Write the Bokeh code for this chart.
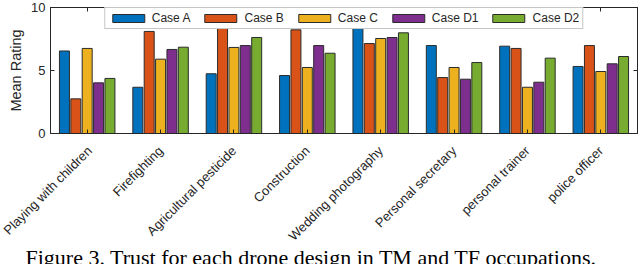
import math
from bokeh.plotting import figure
from bokeh.models import (FactorRange, Range1d, LinearAxis, CategoricalAxis, Legend,
                          LegendItem, FixedTicker, ColumnDataSource, Title)
from bokeh.transform import dodge
from bokeh.embed import file_html
from bokeh.resources import INLINE

categories = ["Playing with children", "Firefighting", "Agricultural pesticide",
              "Construction", "Wedding photography", "Personal secretary",
              "personal trainer", "police officer"]
case_a = [6.55, 3.67, 4.74, 4.60, 8.41, 6.98, 6.93, 5.32]
case_b = [2.75, 8.10, 8.44, 8.23, 7.14, 4.44, 6.75, 6.98]
case_c = [6.75, 5.90, 6.83, 5.24, 7.54, 5.24, 3.67, 4.92]
case_d1 = [4.02, 6.67, 6.98, 6.98, 7.62, 4.31, 4.07, 5.53]
case_d2 = [4.37, 6.85, 7.62, 6.37, 7.99, 5.63, 5.98, 6.11]
series_names = ["Case A", "Case B", "Case C", "Case D1", "Case D2"]
series_keys = ["a", "b", "c", "d1", "d2"]
colors = ["#0072BD", "#D95319", "#EDB120", "#7E2F8E", "#77AC30"]
y_ticks = [0, 5, 10]
y_label = "Mean Rating"
caption = "Figure 3. Trust for each drone design in TM and TF occupations."

src = ColumnDataSource(dict(cat=categories, a=case_a, b=case_b, c=case_c,
                            d1=case_d1, d2=case_d2))

FONT = "Liberation Sans"
TXT = "#262626"

p = figure(width=640, height=264, x_range=FactorRange(*categories),
           y_range=Range1d(0, 10), output_backend="svg", toolbar_location=None,
           min_border_left=50, min_border_right=3, min_border_top=7,
           min_border_bottom=131, background_fill_color="white",
           border_fill_color="white")
p.grid.visible = False
p.outline_line_color = TXT
p.outline_line_width = 1

offsets = [-0.31, -0.155, 0.0, 0.155, 0.31]
items = []
for key, name, col, off in zip(series_keys, series_names, colors, offsets):
    r = p.vbar(x=dodge("cat", off, range=p.x_range), top=key, width=0.136,
               source=src, fill_color=col, line_color="#2b2b2b", line_width=1)
    items.append(LegendItem(label=name, renderers=[r]))

# bottom x axis
xa = p.xaxis[0]
xa.major_label_orientation = math.pi / 4
xa.major_tick_in = 4
xa.major_tick_out = 0
xa.axis_line_color = TXT
xa.major_tick_line_color = TXT
xa.major_label_text_font = FONT
xa.major_label_text_font_size = "13px"
xa.major_label_text_color = TXT
xa.major_label_standoff = 15

# left y axis
ya = p.yaxis[0]
ya.ticker = FixedTicker(ticks=y_ticks)
ya.major_tick_in = 4
ya.major_tick_out = 0
ya.minor_tick_line_color = None
ya.axis_line_color = TXT
ya.major_tick_line_color = TXT
ya.major_label_text_font = FONT
ya.major_label_text_font_size = "13px"
ya.major_label_text_color = TXT
ya.major_label_standoff = 5
ya.axis_label = y_label
ya.axis_label_text_font = FONT
ya.axis_label_text_font_size = "14.5px"
ya.axis_label_text_font_style = "normal"
ya.axis_label_text_color = TXT
ya.axis_label_standoff = 4

# right y axis (ticks only)
ra = LinearAxis(ticker=FixedTicker(ticks=y_ticks), major_tick_in=4, major_tick_out=0,
                minor_tick_line_color=None, major_label_text_color=None,
                major_label_text_font_size="1px", major_label_standoff=0,
                axis_line_color=TXT, major_tick_line_color=TXT)
p.add_layout(ra, "right")

# top x axis (ticks only)
ta = CategoricalAxis(major_tick_in=4, major_tick_out=0, major_label_text_color=None,
                     major_label_text_font_size="1px", major_label_standoff=0,
                     axis_line_color=TXT, major_tick_line_color=TXT)
p.add_layout(ta, "above")

legend = Legend(items=items, orientation="horizontal", location="top",
                glyph_width=40, glyph_height=10, label_height=11, label_width=20,
                label_standoff=4, spacing=10, padding=3, margin=0,
                label_text_font=FONT, label_text_font_size="12px",
                label_text_color=TXT, border_line_color="#8c8c8c",
                border_line_width=1, background_fill_color="white",
                background_fill_alpha=1)
p.add_layout(legend, "center")

cap = Title(text=caption, align="left", offset=-25, text_font="Liberation Serif",
            text_font_size="22px", text_font_style="normal", text_color="black",
            standoff=-14, vertical_align="top")
p.add_layout(cap, "below")

open("out.html", "w").write(file_html(p, INLINE))
